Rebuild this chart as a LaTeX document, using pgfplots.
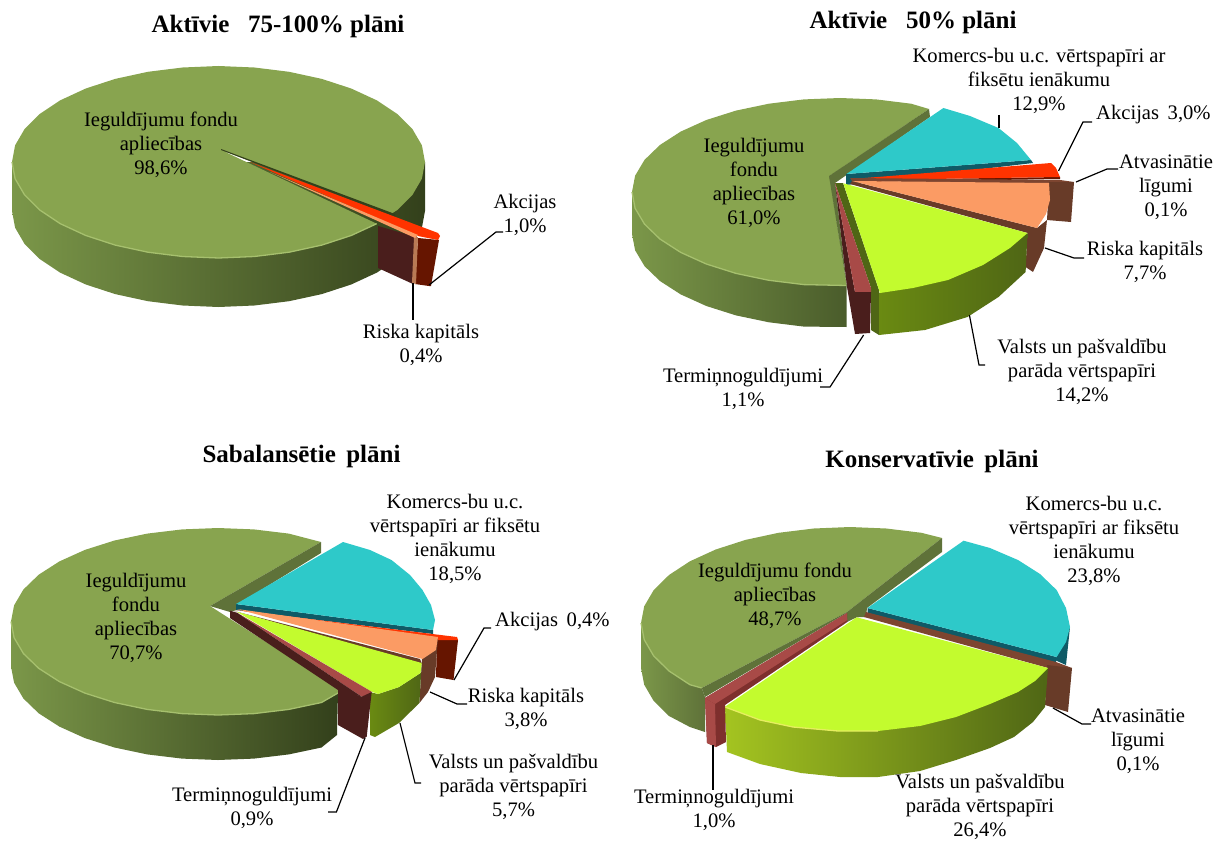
\documentclass[border=0pt]{standalone}
\usepackage{fontspec}
\setmainfont{Liberation Serif}
\usepackage{pgfplots}
\pgfplotsset{compat=1.18}

\definecolor{olivetop}{HTML}{88A44F}
\definecolor{oliverim}{HTML}{A6C06E}
\definecolor{olivecut}{HTML}{5F7239}
\definecolor{oliveL}{HTML}{7B9749}
\definecolor{oliveD}{HTML}{33401B}
\definecolor{oliveM}{HTML}{4A5C2B}
\definecolor{teal1}{HTML}{2EC9C9}
\definecolor{teal2}{HTML}{0F5A66}
\definecolor{red1}{HTML}{FF3300}
\definecolor{red2}{HTML}{661500}
\definecolor{orange1}{HTML}{FB9B64}
\definecolor{orange2}{HTML}{B97A55}
\definecolor{brown1}{HTML}{683B28}
\definecolor{brown2}{HTML}{7D4530}
\definecolor{lime1}{HTML}{C3FB2E}
\definecolor{lime2}{HTML}{4F6615}
\definecolor{lime3}{HTML}{6A8A12}
\definecolor{lime4}{HTML}{A4C420}
\definecolor{lime5}{HTML}{7D9A1A}
\definecolor{limerim}{HTML}{E6EE60}
\definecolor{maroon1}{HTML}{A84A47}
\definecolor{maroon2}{HTML}{7E2F2D}
\definecolor{maroon3}{HTML}{4A1E1C}

% polygons are traced in pixels of the picture, y going down
\newcommand{\poly}[2]{\addplot[draw=none,fill=#1] coordinates {#2};}
\newcommand{\shd}[3]{\addplot[draw=none,left color=#1,right color=#2] coordinates {#3};}
\newcommand{\rim}[2]{\addplot[draw=#1,line width=1.3pt] coordinates {#2};}
\newcommand{\lead}[1]{\addplot[draw=black,line width=1.2pt] coordinates {#1};}
\newcommand{\lab}[3]{\node[align=center,inner sep=0pt,font=\fontsize{20.6}{24}\selectfont] at (axis cs:#1,#2) {#3};}
\newcommand{\ttl}[3]{\node[inner sep=0pt,font=\fontsize{25}{28}\selectfont\bfseries] at (axis cs:#1,#2) {#3};}

\begin{document}
\begin{tikzpicture}[x=1pt,y=1pt]
\useasboundingbox (0,0) rectangle (1214pt,840pt);
\begin{axis}[
    scale only axis,
    width=1214pt,
    height=840pt,
    xmin=0, xmax=1214,
    ymin=0, ymax=840,
    y dir=reverse,
    hide axis,
    no marks,
    clip=false,
]
% ---- Aktivie 75-100%
\shd{oliveL}{oliveD}{(425,162)(425,211)(421.9,227.7)(412.5,243.8)(397.3,259)(376.7,272.7)(351.2,284.5)(321.8,294.1)(289.1,301.2)(254.4,305.5)(218.5,307)(182.6,305.5)(147.9,301.2)(115.2,294.1)(85.8,284.5)(60.3,272.7)(39.7,259)(24.5,243.8)(15.1,227.7)(12,211)(12,162)}
\poly{olivetop}{(221,150)(376.7,223.7)(351.2,235.5)(321.8,245.1)(289.1,252.2)(254.4,256.5)(218.5,258)(182.6,256.5)(147.9,252.2)(115.2,245.1)(85.8,235.5)(60.3,223.7)(39.7,210)(24.5,194.8)(15.1,178.7)(12,162)(15.1,145.3)(24.5,129.2)(39.7,114)(60.3,100.3)(85.8,88.5)(115.2,78.9)(147.9,71.8)(182.6,67.5)(218.5,66)(254.4,67.5)(289.1,71.8)(321.8,78.9)(351.2,88.5)(376.7,100.3)(397.3,114)(412.5,129.2)(421.9,145.3)(425,162)(421.9,178.7)(412.5,194.8)(397.3,210)(391,214)}
\rim{oliverim}{(376.7,223.7)(351.2,235.5)(321.8,245.1)(289.1,252.2)(254.4,256.5)(218.5,258)(182.6,256.5)(147.9,252.2)(115.2,245.1)(85.8,235.5)(60.3,223.7)(39.7,210)(24.5,194.8)(15.1,178.7)(12,162)}
\poly{maroon3}{(378,226)(416,237)(413,284)(378,268)}
\poly{red2}{(418,238)(439,240)(431,286)(429,286)(415,284)}
\poly{orange2}{(414,237)(418,237)(416,284)(412,283)}
\poly{oliveD}{(221,149)(395,214)(395,217)(221,150)}
\poly{red1}{(250,162)(422,227)(438,233)(440,236)(438,240)(418,236)}
\poly{orange1}{(270,172)(418,235)(415,238)}
\lead{(429,285)(496,232)(503,232)}
\lead{(413,283)(413,320)}
\ttl{278}{26}{Aktīvie\,\,\, 75-100\% plāni}
\lab{161}{145}{Ieguldījumu fondu\\apliecības\\98,6\%}
\lab{525}{215}{Akcijas\\1,0\%}
\lab{421}{345}{Riska kapitāls\\0,4\%}
% ---- Aktivie 50%
\shd{oliveL}{oliveM}{(846.7,285)(846.7,327)(803.9,326.6)(768.9,322.3)(736,315.4)(706.3,306)(680.7,294.4)(659.9,281)(644.5,266.1)(635.1,250.3)(632,234)(632,192)}
\poly{olivetop}{(829.5,176)(846.7,285.5)(803.9,284.6)(768.9,280.3)(736,273.4)(706.3,264)(680.7,252.4)(659.9,239)(644.5,224.1)(635.1,208.3)(632,192)(635.1,175.7)(644.5,159.9)(659.9,145)(680.7,131.6)(706.3,120)(736,110.6)(768.9,103.7)(803.9,99.4)(840,98)(876.1,99.4)(911.1,103.7)(929,109)}
\rim{oliverim}{(846.7,285.5)(803.9,284.6)(768.9,280.3)(736,273.4)(706.3,264)(680.7,252.4)(659.9,239)(644.5,224.1)(635.1,208.3)(632,192)}
\poly{olivecut}{(929,109)(930,117)(835,183)(836,200)(829,176)}
\poly{olivecut}{(829,176)(835,183)(847,287)(846.7,285.5)}
\poly{teal2}{(846,174)(1031,160)(1033,163)(846,185)}
\poly{teal1}{(846.5,174)(943.4,108)(970,116)(998.5,128)(1017,143)(1031,160)}
\poly{red2}{(865,180)(1060,177)(1060,179)(865,182)}
\poly{red1}{(865,178)(1051,163)(1056,168)(1060,177)(865,180)}
\poly{brown2}{(850,178)(1060,180)(1074,182)(1049,184)(852,181)}
\poly{brown1}{(1049,182)(1074,182)(1071,222)(1047,220)}
\poly{brown1}{(852,181)(1037,228)(1047,220)(1044,248)(1033,272)(1025.6,267)(1027.5,233)(850,184)}
\poly{orange1}{(852,181)(1049,183)(1050,200)(1046,214)(1037,228)}
\poly{lime2}{(835,183)(843,183)(879,290)(879,335)(871,330)(871,288)}
\shd{lime3}{lime2}{(879,293)(879,335)(925,330)(967.5,317)(998.5,297)(1025.6,272)(1027.5,233)}
\poly{lime1}{(843.3,183.3)(1027.5,233)(1010,248)(983,265)(948,280)(913,288)(880,293)(879,290)}
\poly{maroon3}{(835,183)(855,292)(855,334)(847,287)}
\poly{maroon1}{(835,183)(871,288)(871,292)(855,292)}
\poly{maroon3}{(855,292)(871,292)(870,333)(855,334)}
\lead{(999,115)(999,128)}
\lead{(1058.5,171)(1083,122)(1092,122)}
\lead{(1076,182)(1107,169)(1118,169)}
\lead{(1045,248)(1074,258)(1084,258)}
\lead{(969.4,315)(979,365)(985,365)}
\lead{(863.6,335)(830,387)(820,387)}
\ttl{913}{22}{Aktīvie\,\,\, 50\% plāni}
\lab{1039}{81}{Komercs-bu u.c. vērtspapīri ar\\fiksētu ienākumu\\12,9\%}
\node[anchor=west,inner sep=0pt,font=\fontsize{20.6}{24}\selectfont] at (axis cs:1096,115) {Akcijas\, 3,0\%};
\lab{1166}{187}{Atvasinātie\\līgumi\\0,1\%}
\lab{1145}{262}{Riska kapitāls\\7,7\%}
\lab{1082}{372}{Valsts un pašvaldību\\parāda vērtspapīri\\14,2\%}
\lab{743}{389}{Termiņnoguldījumi\\1,1\%}
\lab{754}{183}{Ieguldījumu\\fondu\\apliecības\\61,0\%}
% ---- Sabalansetie
\shd{oliveL}{oliveD}{(338,692)(337,735)(321.5,747.5)(288.8,754.4)(253.9,758.6)(218,760)(182.1,758.6)(147.2,754.4)(114.5,747.5)(84.9,738.1)(59.4,726.6)(38.7,713.3)(23.4,698.5)(14.1,682.7)(11,666.5)(11,621.5)}
\poly{olivetop}{(210,606)(338,688)(338,693)(321.5,702.5)(288.8,709.4)(253.9,713.6)(218,715)(182.1,713.6)(147.2,709.4)(114.5,702.5)(84.9,693.1)(59.4,681.6)(38.7,668.3)(23.4,653.5)(14.1,637.7)(11,621.5)(14.1,605.3)(23.4,589.5)(38.7,574.7)(59.4,561.4)(84.9,549.9)(114.5,540.5)(147.2,533.6)(182.1,529.4)(218,528)(253.9,529.4)(288.8,533.6)(321,542)}
\rim{oliverim}{(338,693)(321.5,702.5)(288.8,709.4)(253.9,713.6)(218,715)(182.1,713.6)(147.2,709.4)(114.5,702.5)(84.9,693.1)(59.4,681.6)(38.7,668.3)(23.4,653.5)(14.1,637.7)(11,621.5)}
\poly{olivecut}{(321,542)(321,553)(236.7,605)(236.7,610)(230,612)(210,606)}
\poly{teal2}{(236,604)(433,630)(433,634)(236,610)}
\poly{teal1}{(236,604)(343,542)(370,550)(391.5,560)(410,575)(422.5,590)(431,605)(435,620)(433,630)}
\poly{red2}{(437,638)(458,640)(453.5,680)(436,677)}
\poly{red1}{(236,610)(457,637)(458,640)(437,640)}
\poly{brown1}{(438,637)(435,677)(428,692)(419.4,703)(422,659)}
\poly{brown1}{(234,611)(420,659)(422,664)}
\poly{orange1}{(237,609)(438,637)(436,650)(422.5,659)}
\shd{lime3}{lime2}{(370,692)(378,694)(399,687)(420.5,673)(421.7,663)(419.4,703)(399,723)(375,737)(370,735)}
\poly{lime1}{(236.7,611.7)(421.7,663)(420.5,673)(399,687)(378,694)(371.7,691.7)}
\poly{maroon1}{(237,612.7)(371.7,691.7)(368,696)(361.7,696.7)}
\poly{maroon3}{(230,610.7)(237,612.7)(361.7,696.7)(338,690)(230,618)}
\poly{maroon3}{(338,688)(361.7,696.7)(371.7,692)(366.7,736.7)(363,739)(338,725)}
\lead{(454,680)(484,628)(491,628)}
\lead{(430,692)(457,704)(467,704)}
\lead{(400,723)(415,783)(421,783)}
\lead{(365,738)(336.4,812)(328,812)}
\ttl{301.5}{456}{Sabalansētie\, plāni}
\lab{455}{539}{Komercs-bu u.c.\\vērtspapīri ar fiksētu\\ienākumu\\18,5\%}
\node[anchor=west,inner sep=0pt,font=\fontsize{20.6}{24}\selectfont] at (axis cs:495,622) {Akcijas\, 0,4\%};
\lab{526}{709}{Riska kapitāls\\3,8\%}
\lab{513.5}{787}{Valsts un pašvaldību\\parāda vērtspapīri\\5,7\%}
\lab{252}{808}{Termiņnoguldījumi\\0,9\%}
\lab{136}{618}{Ieguldījumu\\fondu\\apliecības\\70,7\%}
% ---- Konservativie
\shd{oliveL}{olivecut}{(701.7,688)(705,697)(705,732)(689.9,727)(669,716)(653.6,700.8)(644.2,684.7)(641,668)(641,623)}
\poly{olivetop}{(847,612)(701.7,688)(689.9,684.7)(669,671)(653.6,655.8)(644.2,639.7)(641,623)(644.2,606.3)(653.6,590.2)(669,575)(689.9,561.3)(715.7,549.5)(745.5,539.9)(778.5,532.8)(813.7,528.5)(850,527)(886.3,528.5)(921.5,532.8)(942,538)}
\rim{oliverim}{(701.7,688)(689.9,684.7)(669,671)(653.6,655.8)(644.2,639.7)(641,623)}
\poly{olivecut}{(942,538)(942,552)(867,608)(866,617)(856.7,617.3)(847,622)(846.7,613)(705,697)(701.7,688)(847,612)}
\poly{teal2}{(1070,627)(1066,665)(1054.7,660)(1056.6,657)}
\poly{teal2}{(867.5,608)(1056.6,657)(1056,663)(867.5,613)}
\poly{teal1}{(867.5,608)(963.6,540.7)(990,548)(1018,560)(1040,574)(1056.6,590)(1066,608)(1070,627)(1066,642)(1056.6,657)}
\poly{brown2}{(866,612)(1056,662)(1072,668)(1048,668)(864,617)}
\poly{brown1}{(1047,665)(1072,668)(1068,712)(1045,705)}
\addplot[draw=none,left color=lime4,middle color=lime5,right color=lime2] coordinates {(725,707)(727,752)(760,764)(801,773)(840,777)(878,777)(920,771)(956,760)(990,748)(1014,737)(1033,722)(1045,707)(1048,668)};
\poly{lime1}{(856.7,617.3)(1048,668)(1035,681)(1018,692)(990,704)(956,717)(920,726)(878,731)(838,731)(793,727)(760,720)(725,706.7)}
\rim{limerim}{(725,707)(760,720)(793,727)(838,731)(878,731)}
\poly{maroon2}{(847,613)(847.3,622)(725,705)(726,742)(716,747)(707,743)(705,698)}
\poly{maroon1}{(847,613)(847.3,620)(715,704)(705,698)}
\poly{maroon1}{(705,698)(715,704)(716,747)(707,743)}
\lead{(1053,708)(1082,724)(1091,724)}
\lead{(713,745)(713,790)}
\ttl{932}{461}{Konservatīvie\, plāni}
\lab{1094}{541}{Komercs-bu u.c.\\vērtspapīri ar fiksētu\\ienākumu\\23,8\%}
\lab{775}{596}{Ieguldījumu fondu\\apliecības\\48,7\%}
\lab{1138}{741}{Atvasinātie\\līgumi\\0,1\%}
\lab{980}{807}{Valsts un pašvaldību\\parāda vērtspapīri\\26,4\%}
\lab{714}{810}{Termiņnoguldījumi\\1,0\%}
\end{axis}
\end{tikzpicture}
\end{document}
